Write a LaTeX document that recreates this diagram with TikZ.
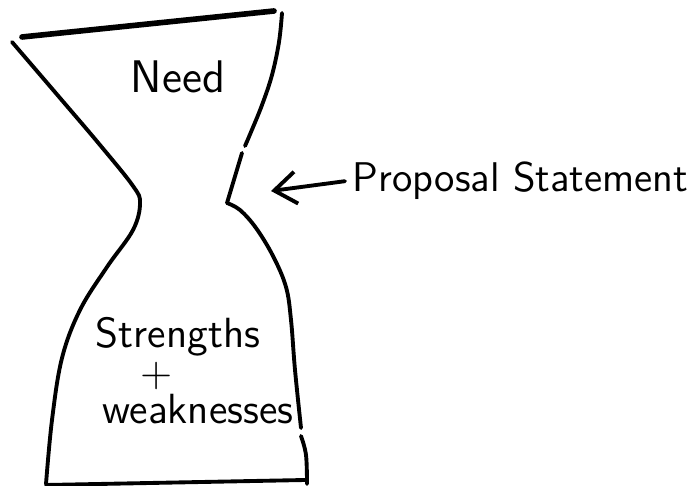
\documentclass[tikz,border=0pt]{standalone}
\usepackage{tikz}
\usetikzlibrary{arrows.meta}

\tikzset{
  pen/.style={line width=1.1pt,line cap=round,line join=round},
  label/.style={font=\sffamily\fontsize{12}{14}\selectfont,inner sep=2pt},
}

\begin{document}
\begin{tikzpicture}[x=0.01cm,y=-0.01cm]
      \useasboundingbox (0,0) rectangle (695,486);
      % rim of the funnel
      \draw[pen,line width=1.6pt] (22,37)--(274,11);
      % left wall, pinched at the waist
      \draw[pen] plot[smooth,tension=0.6] coordinates {(12,42) (60,98) (100,145) (133,186) (140,203) (133,230) (107,267) (80,310) (62,358) (52,420) (46,484)};
      % right wall, upper stroke
      \draw[pen] plot[smooth,tension=0.6] coordinates {(282,13) (279,42) (272,75) (262,105) (251,132) (245,146)};
      \draw[pen] (242,153)--(227,203);
      % right wall, lower stroke
      \draw[pen] plot[smooth,tension=0.6] coordinates {(227,203) (240,210) (256,228) (273,256) (286,287) (291,320) (295,370) (301,428)};
      \draw[pen] plot[smooth,tension=0.6] coordinates {(301,436) (306,455) (307,484)};
      % base
      \draw[pen] (46,485)--(305,480);
      \node[label,font=\sffamily\fontsize{13}{15}\selectfont] (need) at (178,77) {Need};
      \node[label,inner sep=0pt] (strengths) at (178,337) {Strengths};
      \node[label,inner sep=0pt] (plus) at (157,376) {+};
      \node[label,inner sep=0pt] (weak) at (198,409) {weaknesses};
      \node[label,font=\sffamily\fontsize{11.8}{14}\selectfont,anchor=base west] (proposal) at (345,192) {Proposal Statement};
      \coordinate (waist) at (271,191);
      \draw[pen,-{Straight Barb[length=2.2mm,width=3.2mm]}] (proposal.west)--(waist);
    \end{tikzpicture}
\end{document}
